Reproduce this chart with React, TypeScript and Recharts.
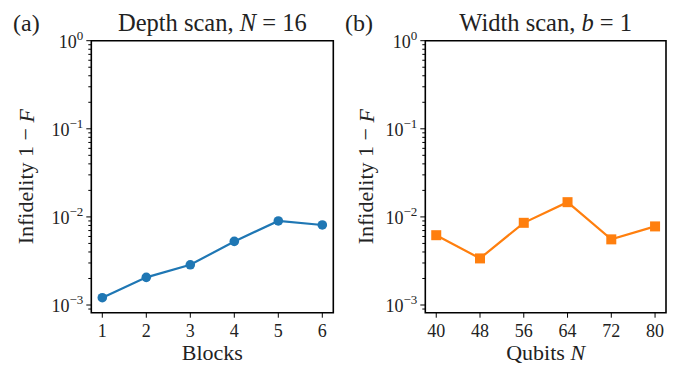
import React from 'react';
import { LineChart, Line, XAxis, YAxis, ReferenceArea } from 'recharts';

const blocks = [1, 2, 3, 4, 5, 6];
const depthInfidelity = [1.21e-3, 2.06e-3, 2.86e-3, 5.27e-3, 9.0e-3, 8.1e-3];

const qubits = [40, 48, 56, 64, 72, 80];
const widthInfidelity = [6.2e-3, 3.38e-3, 8.57e-3, 1.47e-2, 5.56e-3, 7.8e-3];

const majorTicks = [1e-3, 1e-2, 1e-1, 1];
const majorExponents = ['−3', '−2', '−1', '0'];
const minorSteps = [2, 3, 4, 5, 6, 7, 8, 9];

const Y_DOMAIN: [number, number] = [8.18e-4, 1];
const FONT = '"Liberation Serif", "DejaVu Serif", serif';
const TICK_SIZE = 18;
const LABEL_SIZE = 22;
const TITLE_SIZE = 24.5;

const allTicks = [
  9e-4,
  ...majorTicks,
  ...majorTicks.slice(0, 3).flatMap((m) => minorSteps.map((s) => m * s)),
].sort((a, b) => a - b);

const depthData = blocks.map((x, i) => ({ x, y: depthInfidelity[i] }));
const widthData = qubits.map((x, i) => ({ x, y: widthInfidelity[i] }));

function LogTick(props: any) {
  const { x, y, payload } = props;
  const idx = majorTicks.findIndex((m) => Math.abs(m - payload.value) / m < 1e-6);
  const major = idx >= 0;
  return (
    <g>
      <line x1={x - (major ? 5 : 3)} x2={x} y1={y} y2={y} stroke="#000" strokeWidth={1} />
      {major && (
        <text x={x - 8} y={y + 7} textAnchor="end" fontFamily={FONT} fontSize={TICK_SIZE} fill="#222">
          10
          <tspan dy={-8} fontSize={13}>
            {majorExponents[idx]}
          </tspan>
        </text>
      )}
    </g>
  );
}

function XTick(props: any) {
  const { x, y, payload } = props;
  return (
    <g>
      <line x1={x} x2={x} y1={y} y2={y + 5} stroke="#000" strokeWidth={1} />
      <text x={x} y={y + 24} textAnchor="middle" fontFamily={FONT} fontSize={TICK_SIZE} fill="#222">
        {payload.value}
      </text>
    </g>
  );
}

function CircleDot(props: any) {
  const { cx, cy, index } = props;
  return <circle key={index} cx={cx} cy={cy} r={4.8} fill="#1f77b4" />;
}

function SquareDot(props: any) {
  const { cx, cy, index } = props;
  return <rect key={index} x={cx - 5} y={cy - 5} width={10} height={10} fill="#ff7f0e" />;
}

interface PanelProps {
  letter: string;
  title: React.ReactNode;
  xLabel: React.ReactNode;
  data: { x: number; y: number }[];
  xDomain: [number, number];
  xTicks: number[];
  color: string;
  square?: boolean;
  width: number;
  left: number;
  right: number;
  letterOffset: number;
}

function Panel({ letter, title, xLabel, data, xDomain, xTicks, color, square, width, left, right, letterOffset }: PanelProps) {
  return (
    <LineChart width={width} height={366} data={data} margin={{ top: 40.7, right, bottom: 13, left: 0 }}>
      <XAxis
        xAxisId="b"
        type="number"
        dataKey="x"
        domain={xDomain}
        ticks={xTicks}
        allowDataOverflow
        height={40.3}
        axisLine={false}
        tickLine={false}
        tickSize={0}
        tickMargin={0}
        tick={<XTick />}
        label={{
          content: ({ viewBox }: any) => (
            <text
              x={viewBox.x + viewBox.width / 2}
              y={viewBox.y + 47}
              textAnchor="middle"
              fontFamily={FONT}
              fontSize={LABEL_SIZE}
              fill="#222"
            >
              {xLabel}
            </text>
          ),
        }}
      />
      <YAxis
        yAxisId="l"
        type="number"
        scale="log"
        domain={Y_DOMAIN}
        ticks={allTicks}
        allowDataOverflow
        interval={0}
        width={left}
        axisLine={false}
        tickLine={false}
        tickSize={0}
        tickMargin={0}
        tick={<LogTick />}
        label={{
          content: ({ viewBox }: any) => {
            const cx = viewBox.x + 26;
            const cy = viewBox.y + viewBox.height / 2;
            return (
              <text
                x={cx}
                y={cy}
                transform={`rotate(-90 ${cx} ${cy})`}
                textAnchor="middle"
                dominantBaseline="central"
                fontFamily={FONT}
                fontSize={LABEL_SIZE}
                fill="#222"
              >
                Infidelity 1 − <tspan fontStyle="italic">F</tspan>
              </text>
            );
          },
        }}
      />
      <ReferenceArea
        xAxisId="b"
        yAxisId="l"
        x1={xDomain[0]}
        x2={xDomain[1]}
        y1={Y_DOMAIN[0]}
        y2={Y_DOMAIN[1]}
        fill="none"
        fillOpacity={0}
        stroke="#000"
        strokeWidth={1.6}
        ifOverflow="visible"
        label={{
          content: ({ viewBox }: any) => (
            <g>
              <text
                x={viewBox.x + viewBox.width / 2}
                y={viewBox.y - 10}
                textAnchor="middle"
                fontFamily={FONT}
                fontSize={TITLE_SIZE}
                fill="#222"
              >
                {title}
              </text>
              <text x={viewBox.x + letterOffset} y={viewBox.y - 10} fontFamily={FONT} fontSize={24} fill="#222">
                {letter}
              </text>
            </g>
          ),
        }}
      />
      <Line
        xAxisId="b"
        yAxisId="l"
        dataKey="y"
        type="linear"
        stroke={color}
        strokeWidth={2.2}
        dot={square ? <SquareDot /> : <CircleDot />}
        activeDot={false}
        isAnimationActive={false}
      />
    </LineChart>
  );
}

export default function App() {
  return (
    <div style={{ position: 'absolute', left: 0, top: 0, width: 679, height: 366, background: '#fff', display: 'flex' }}>
      <Panel
        letter="(a)"
        title={
          <>
            Depth scan, <tspan fontStyle="italic">N</tspan> = 16
          </>
        }
        xLabel="Blocks"
        data={depthData}
        xDomain={[0.75, 6.25]}
        xTicks={blocks}
        color="#1f77b4"
        width={340}
        left={91.3}
        right={6.7}
        letterOffset={-78.3}
      />
      <Panel
        letter="(b)"
        title={
          <>
            Width scan, <tspan fontStyle="italic">b</tspan> = 1
          </>
        }
        xLabel={
          <>
            Qubits <tspan fontStyle="italic">N</tspan>
          </>
        }
        data={widthData}
        xDomain={[38, 82]}
        xTicks={qubits}
        color="#ff7f0e"
        square
        width={339}
        left={85.3}
        right={13}
        letterOffset={-80.3}
      />
    </div>
  );
}
